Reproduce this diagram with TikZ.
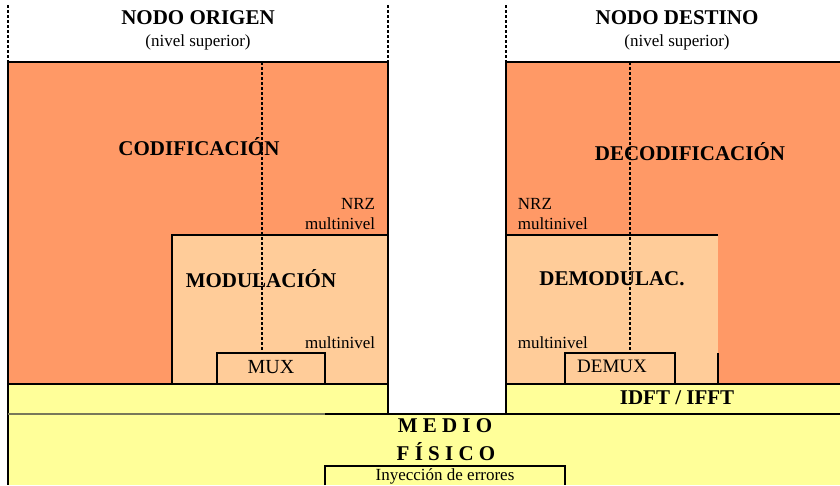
\documentclass[tikz,border=0pt]{standalone}
\usepackage{fontspec}
\setmainfont{Liberation Serif}
\definecolor{orng}{RGB}{255,153,102}
\definecolor{lorng}{RGB}{255,204,153}
\definecolor{ylw}{RGB}{255,255,153}
\definecolor{olive}{RGB}{120,120,90}
\begin{document}
\begin{tikzpicture}[x=1pt,y=-1pt,line width=1.9pt,
  big/.style={font=\fontsize{21}{24}\selectfont\bfseries,inner sep=0pt},
  small/.style={font=\fontsize{17}{20}\selectfont,inner sep=0pt},
  dsh/.style={line width=1.6pt,dash pattern=on 3pt off 2pt}]
\useasboundingbox (0,0) rectangle (840,485);
\fill[white] (0,0) rectangle (840,485);
% fills
\fill[orng] (8,62) rectangle (388,384);
\fill[lorng] (172,235) rectangle (388,384);
\fill[orng] (506,62) rectangle (840,384);
\fill[lorng] (506,235) rectangle (718,384);
\fill[ylw] (8,384) rectangle (388,414);
\fill[ylw] (506,384) rectangle (840,414);
\fill[ylw] (8,414) rectangle (840,485);
% dashed lines
\draw[dsh] (8,5) -- (8,62);
\draw[dsh] (388,5) -- (388,62);
\draw[dsh] (506,5) -- (506,62);
\draw[dsh] (262,62) -- (262,353);
\draw[dsh] (630,62) -- (630,353);
% left borders
\draw (8,62) -- (388,62) -- (388,414);
\draw (8,62) -- (8,485);
\draw (172,384) -- (172,235) -- (388,235);
\draw (8,384) -- (388,384);
% right borders
\draw (840,62) -- (506,62) -- (506,414);
\draw (506,235) -- (718,235);
\draw (718,353) -- (718,384);
\draw (506,384) -- (840,384);
% medio fisico top
\draw[olive] (8,414) -- (325,414);
\draw (325,414) -- (840,414);
% small boxes
\filldraw[fill=lorng] (217,353) rectangle (325,384);
\filldraw[fill=lorng] (565,353) rectangle (675,384);
\filldraw[fill=ylw] (325,485) -- (325,466) -- (565,466) -- (565,485);
% texts
\node[big] (origen) at (198,18) {NODO ORIGEN};
\node[small] (supo) at (198,42) {(nivel superior)};
\node[big] (destino) at (677,18) {NODO DESTINO};
\node[small] (supd) at (677,42) {(nivel superior)};
\node[big] (cod) at (199,147) {CODIFICACIÓN};
\node[big] (dec) at (690,152) {DECODIFICACIÓN};
\node[small,anchor=east] (nrzl) at (376,204) {NRZ};
\node[small,anchor=east] (mnl1) at (376,224) {multinivel};
\node[small,anchor=west] (nrzr) at (517,204) {NRZ};
\node[small,anchor=west] (mnr1) at (517,224) {multinivel};
\node[big] (mod) at (261,279) {MODULACIÓN};
\node[big] (demod) at (612,279) {DEMODULAC.};
\node[small,anchor=east] (mnl2) at (376,343) {multinivel};
\node[small,anchor=west] (mnr2) at (517,343) {multinivel};
\node[font=\fontsize{20}{22}\selectfont,inner sep=0pt] (mux) at (271,367) {MUX};
\node[font=\fontsize{19}{22}\selectfont,inner sep=0pt] (demux) at (612,366) {DEMUX};
\node[big] (idft) at (677,398) {IDFT / IFFT};
\node[big] (medio) at (445,426) {M E D I O};
\node[big] (fisico) at (446,452) {F Í S I C O};
\node[small] (iny) at (445,476) {Inyección de errores};
\end{tikzpicture}
\end{document}
